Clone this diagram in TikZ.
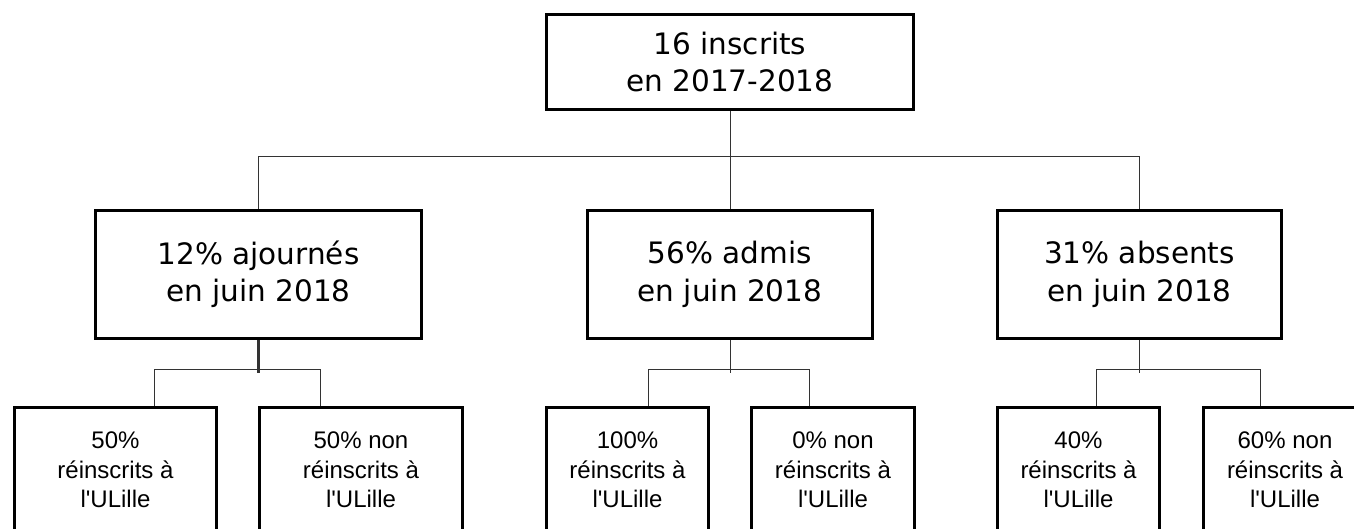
\documentclass[tikz,border=0pt]{standalone}
\usepackage{fontspec}
\newfontfamily\verdfont{DejaVu Sans}
\newfontfamily\arialfont{Liberation Sans}
\usepackage{tikz}

\begin{document}
\begin{tikzpicture}[x=1pt,y=-1pt,
  box/.style={draw=black,line width=3pt,inner sep=0pt,align=center},
  upper/.style={box,minimum height=95pt,
    font=\verdfont\fontsize{29.5}{37.5}\selectfont},
  middle/.style={box,minimum height=128pt,
    font=\verdfont\fontsize{29.5}{37.5}\selectfont},
  lower/.style={box,minimum height=126pt,
    font=\arialfont\fontsize{24}{29.5}\selectfont},
  link/.style={draw=black!80,line width=1pt}]
\useasboundingbox (0,0) rectangle (1354,529);
\node[upper,minimum width=367pt] (top) at (730,62)
  {16 inscrits\\en 2017-2018};
\node[middle,minimum width=326pt] (ajourn) at (258.5,274.5)
  {12\% ajournés\\en juin 2018};
\node[middle,minimum width=285pt] (admis) at (730,274.5)
  {56\% admis\\en juin 2018};
\node[middle,minimum width=284pt] (absent) at (1139.5,274.5)
  {31\% absents\\en juin 2018};
\node[lower,minimum width=202pt] (ajournre) at (115.5,470)
  {50\%\\réinscrits à\\l'ULille};
\node[lower,minimum width=203pt] (ajournnon) at (361,470)
  {50\% non\\réinscrits à\\l'ULille};
\node[lower,minimum width=162pt] (admisre) at (627.5,470)
  {100\%\\réinscrits à\\l'ULille};
\node[lower,minimum width=163pt] (admisnon) at (833,470)
  {0\% non\\réinscrits à\\l'ULille};
\node[lower,minimum width=162pt] (absentre) at (1078.5,470)
  {40\%\\réinscrits à\\l'ULille};
\node[lower,minimum width=163pt] (absentnon) at (1285,470)
  {60\% non\\réinscrits à\\l'ULille};
\draw[link] (top.south) -- (admis.north);
\draw[link] (ajourn.north) -- ++(0,-52.5) -| (absent.north);
\draw[link,line width=3pt] (ajourn.south) -- ++(0,32.5);
\draw[link] ([xshift=38.5]ajournre.north) -- ++(0,-36) -| ([xshift=-41]ajournnon.north);
\draw[link] (admis.south) -- ++(0,32.5);
\draw[link] ([xshift=20.5]admisre.north) -- ++(0,-36) -| ([xshift=-24]admisnon.north);
\draw[link] (absent.south) -- ++(0,32.5);
\draw[link] ([xshift=17.5]absentre.north) -- ++(0,-36) -| ([xshift=-25]absentnon.north);
\end{tikzpicture}
\end{document}
